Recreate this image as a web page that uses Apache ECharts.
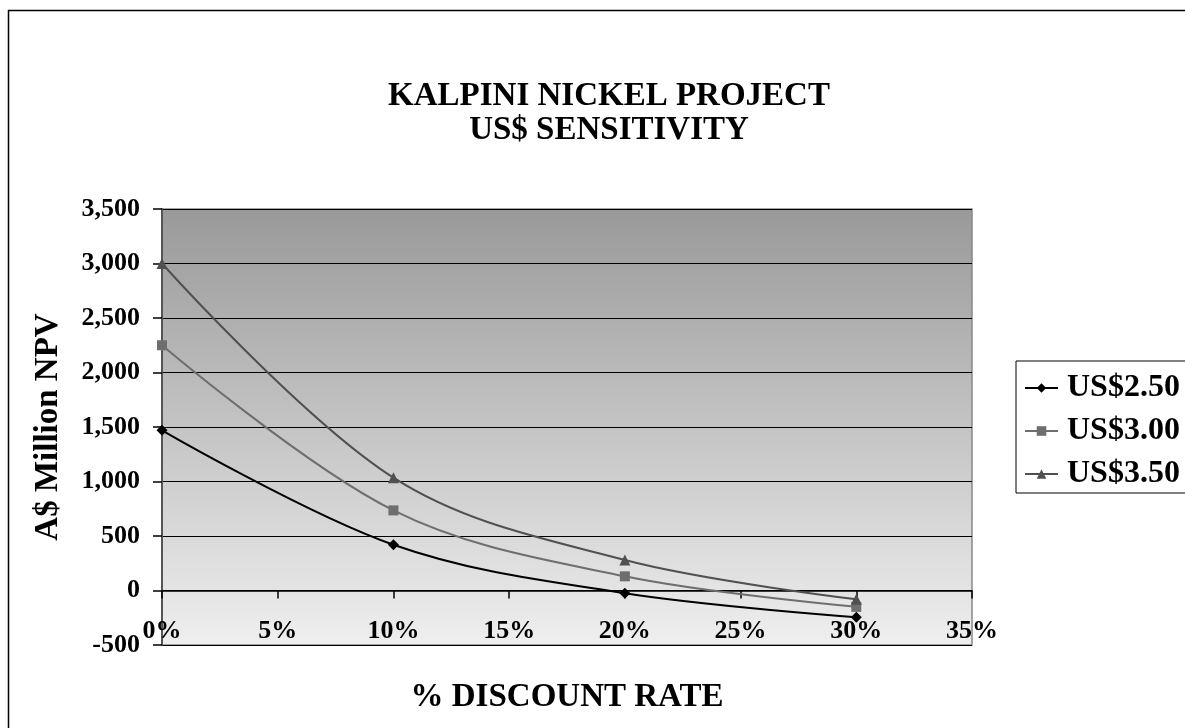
<!DOCTYPE html>
<html>
<head>
<meta charset="utf-8">
<script src="https://cdn.jsdelivr.net/npm/echarts@6/dist/echarts.min.js"></script>
<style>
html,body{margin:0;padding:0;background:#fff;}
#chart{width:1185px;height:728px;}
</style>
</head>
<body>
<div id="chart"></div>
<script>
// Discount rate (%) on x axis
const discountRates = [0, 10, 20, 30];
const seriesNames = ['US$2.50', 'US$3.00', 'US$3.50'];
const npv250 = [1470, 420, -25, -245];
const npv300 = [2250, 735, 130, -150];
const npv350 = [3000, 1035, 280, -80];
const xTicks = [0, 5, 10, 15, 20, 25, 30, 35];
const yTicks = [-500, 0, 500, 1000, 1500, 2000, 2500, 3000, 3500];

const FONT = '"Liberation Serif", "Times New Roman", serif';
const pairs = arr => discountRates.map((x, i) => [x, arr[i]]);

const chart = echarts.init(document.getElementById('chart'));
const seriesStyles = [
  {data: npv250, color: '#000000', symbol: 'diamond', size: 11},
  {data: npv300, color: '#6e6e6e', symbol: 'rect', size: 10},
  {data: npv350, color: '#505050', symbol: 'triangle', size: 11}
];
chart.setOption({
  animation: false,
  title: {
    text: 'KALPINI NICKEL PROJECT\nUS$ SENSITIVITY',
    left: 604, top: 74, textAlign: 'center',
    textStyle: {fontFamily: FONT, fontWeight: 'bold', fontSize: 33, lineHeight: 34, color: '#000'}
  },
  graphic: [{
    type: 'rect', silent: true,
    shape: {x: 8.5, y: 10.5, width: 1400, height: 1000},
    style: {fill: 'none', stroke: '#000', lineWidth: 1.5}
  }],
  legend: {
    orient: 'vertical',
    left: 1016, top: 361,
    data: seriesNames,
    itemWidth: 33, itemHeight: 12, itemGap: 11,
    padding: [11, 40, 3, 8],
    borderColor: '#000', borderWidth: 1,
    backgroundColor: '#fff',
    textStyle: {fontFamily: FONT, fontWeight: 'bold', fontSize: 32, color: '#000', padding: [0, 0, 0, 4]}
  },
  grid: {
    left: 162, top: 209, width: 810, height: 436,
    outerBoundsMode: 'none', containLabel: false,
    show: true,
    borderColor: '#888', borderWidth: 1.5,
    backgroundColor: {type: 'linear', x: 0, y: 0, x2: 0, y2: 1,
      colorStops: [{offset: 0, color: '#999999'}, {offset: 1, color: '#efefef'}]}
  },
  xAxis: {
    type: 'value', min: xTicks[0], max: xTicks[xTicks.length - 1], interval: 5,
    name: '% DISCOUNT RATE', nameLocation: 'middle', nameGap: 36,
    nameTextStyle: {fontFamily: FONT, fontWeight: 'bold', fontSize: 33, color: '#000'},
    axisLine: {onZero: true, lineStyle: {color: '#000', width: 1.5}},
    axisTick: {show: true, length: 8, lineStyle: {color: '#000', width: 1.5}},
    axisLabel: {formatter: '{value}%', margin: -27, fontFamily: FONT, fontWeight: 'bold', fontSize: 26, color: '#000'},
    splitLine: {show: false}
  },
  yAxis: {
    type: 'value', min: yTicks[0], max: yTicks[yTicks.length - 1], interval: 500,
    name: 'A$ Million NPV', nameLocation: 'middle', nameGap: 97, nameRotate: 90,
    nameTextStyle: {fontFamily: FONT, fontWeight: 'bold', fontSize: 33, color: '#000'},
    axisLine: {show: true, lineStyle: {color: '#555', width: 2}},
    axisTick: {show: true, length: 9, lineStyle: {color: '#000', width: 1.5}},
    axisLabel: {
      margin: 22, fontFamily: FONT, fontWeight: 'bold', fontSize: 26, color: '#000',
      formatter: v => v.toLocaleString('en-US')
    },
    splitLine: {show: true, lineStyle: {color: '#000', width: 1}}
  },
  series: seriesStyles.map((s, i) => ({
    name: seriesNames[i], type: 'line', smooth: 0.35,
    data: pairs(s.data),
    symbol: s.symbol, symbolSize: s.size, showSymbol: true,
    lineStyle: {color: s.color, width: 2},
    itemStyle: {color: s.color}
  }))
});
</script>
</body>
</html>
